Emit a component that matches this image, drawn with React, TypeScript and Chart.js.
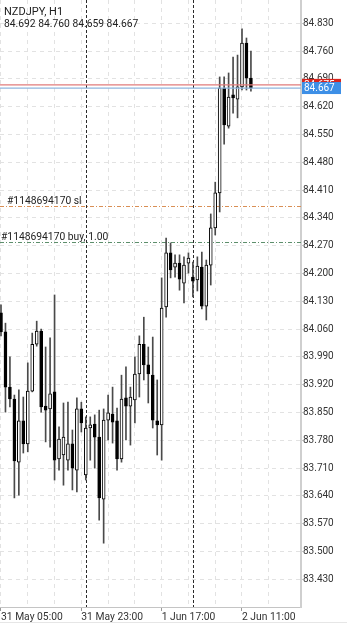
import React, { useEffect, useRef } from 'react';
import { Chart, registerables } from 'chart.js';

Chart.register(...registerables);

const symbolTitle = 'NZDJPY, H1';
const ohlcText = '84.692 84.760 84.659 84.667';

const opens = [84.101, 84.053, 83.914, 83.884, 83.725, 83.829, 83.771, 83.904, 84.022, 84.055, 83.866, 83.859, 83.902, 83.733, 83.743, 83.730, 83.771, 83.705, 83.859, 83.693, 83.811, 83.821, 83.788, 83.632, 83.831, 83.846, 83.829, 83.733, 83.887, 83.866, 83.882, 83.947, 84.022, 83.970, 83.944, 83.829, 83.819, 84.116, 84.252, 84.216, 84.226, 84.176, 84.226, 84.191, 84.184, 84.216, 84.118, 84.221, 84.315, 84.403, 84.667, 84.571, 84.650, 84.639, 84.670, 84.780, 84.692];
const highs = [84.121, 84.075, 83.990, 83.894, 83.907, 83.889, 83.975, 84.050, 84.080, 84.060, 84.015, 84.038, 84.146, 83.814, 83.874, 83.876, 83.806, 83.887, 83.876, 83.839, 83.839, 83.844, 83.856, 83.859, 83.894, 83.914, 83.861, 83.944, 83.965, 83.914, 83.990, 84.043, 84.090, 84.015, 84.040, 83.932, 84.189, 84.289, 84.277, 84.247, 84.247, 84.242, 84.252, 84.229, 84.242, 84.254, 84.234, 84.350, 84.430, 84.695, 84.695, 84.705, 84.745, 84.750, 84.816, 84.793, 84.760];
const lows = [84.043, 83.851, 83.864, 83.635, 83.642, 83.748, 83.751, 83.902, 84.017, 83.851, 83.776, 83.763, 83.680, 83.705, 83.667, 83.705, 83.655, 83.650, 83.801, 83.680, 83.730, 83.710, 83.579, 83.521, 83.781, 83.773, 83.705, 83.725, 83.781, 83.768, 83.824, 83.889, 83.932, 83.874, 83.811, 83.743, 83.730, 84.090, 84.189, 84.191, 84.158, 84.126, 84.201, 84.141, 84.156, 84.111, 84.083, 84.171, 84.297, 84.355, 84.526, 84.566, 84.604, 84.592, 84.662, 84.662, 84.659];
const closes = [84.053, 83.914, 83.884, 83.728, 83.829, 83.771, 83.904, 84.022, 84.055, 83.864, 83.856, 83.897, 83.730, 83.783, 83.788, 83.771, 83.710, 83.859, 83.824, 83.811, 83.819, 83.788, 83.635, 83.831, 83.849, 83.826, 83.733, 83.884, 83.866, 83.889, 83.947, 84.022, 83.970, 83.947, 83.831, 83.819, 84.113, 84.252, 84.209, 84.226, 84.186, 84.221, 84.239, 84.181, 84.219, 84.118, 84.221, 84.315, 84.403, 84.667, 84.574, 84.644, 84.642, 84.670, 84.780, 84.692, 84.667];

const xTickIndex = [0, 18, 36, 54];
const xTickLabels = ['31 May 05:00', '31 May 23:00', '1 Jun 17:00', '2 Jun 11:00'];
const xGridIndex = [0, 6, 12, 18, 24, 30, 36, 42, 48, 54, 60];
const daySeparators = [19, 43];
const yTickValues = [83.430, 83.500, 83.570, 83.640, 83.710, 83.780, 83.850, 83.920, 83.990, 84.060, 84.130, 84.200, 84.270, 84.340, 84.410, 84.480, 84.550, 84.620, 84.690, 84.760, 84.830];

const slPrice = 84.370;
const slLabel = '#1148694170 sl';
const buyPrice = 84.280;
const buyLabel = '#1148694170 buy, 1.00';
const askPrice = 84.675;
const bidPrice = 84.667;

const FONT = 'Roboto';

const overlayPlugin = {
  id: 'mtOverlay',
  beforeDatasetsDraw(chart: any) {
    const { ctx, chartArea: a, scales } = chart;
    const x = scales.x;
    const y = scales.y;
    ctx.save();
    // day separators
    ctx.strokeStyle = '#2a2a2a';
    ctx.lineWidth = 1;
    ctx.setLineDash([3, 2]);
    daySeparators.forEach((i) => {
      const px = Math.round(x.getPixelForValue(i)) + 0.5;
      ctx.beginPath();
      ctx.moveTo(px, a.top);
      ctx.lineTo(px, a.bottom);
      ctx.stroke();
    });
    // order lines
    const orderLine = (price: number, color: string, label: string, lx: number) => {
      const py = Math.round(y.getPixelForValue(price)) + 0.5;
      ctx.strokeStyle = color;
      ctx.lineWidth = 1;
      ctx.setLineDash([4, 2, 1, 2]);
      ctx.beginPath();
      ctx.moveTo(a.left, py);
      ctx.lineTo(a.right, py);
      ctx.stroke();
      ctx.setLineDash([]);
      ctx.font = `10.3px ${FONT}`;
      ctx.fillStyle = '#222';
      ctx.textAlign = 'left';
      ctx.textBaseline = 'alphabetic';
      ctx.fillText(label, lx, py - 2.5);
    };
    orderLine(slPrice, '#d98f55', slLabel, 7);
    orderLine(buyPrice, '#5d8f6c', buyLabel, 1);
    ctx.restore();
  },
  afterDatasetsDraw(chart: any) {
    const { ctx, chartArea: a, scales } = chart;
    const y = scales.y;
    ctx.save();
    const line = (price: number, color: string) => {
      const py = y.getPixelForValue(price);
      ctx.strokeStyle = color;
      ctx.lineWidth = 1.3;
      ctx.beginPath();
      ctx.moveTo(a.left, py);
      ctx.lineTo(a.right, py);
      ctx.stroke();
    };
    line(askPrice, '#e07b7b');
    line(bidPrice, '#8fb5de');
    ctx.restore();
  },
  afterDraw(chart: any) {
    const { ctx, chartArea: a, scales, width, height } = chart;
    const y = scales.y;
    ctx.save();
    const tag = (price: number, bg: string, fg: string) => {
      const py = y.getPixelForValue(price);
      ctx.fillStyle = bg;
      ctx.fillRect(a.right + 1, py - 6, 39, 12);
      ctx.fillStyle = fg;
      ctx.font = `10px ${FONT}`;
      ctx.textAlign = 'left';
      ctx.textBaseline = 'middle';
      ctx.fillText(price.toFixed(3), a.right + 3, py + 0.5);
    };
    tag(askPrice, '#d8261f', '#ffffff');
    tag(bidPrice, '#3d8fe6', '#ffffff');
    // header text
    ctx.fillStyle = '#222';
    ctx.textAlign = 'left';
    ctx.textBaseline = 'alphabetic';
    ctx.font = `11px ${FONT}`;
    ctx.fillText(symbolTitle, 4, 15);
    ctx.font = `10.3px ${FONT}`;
    ctx.fillText(ohlcText, 4, 26.5);
    // bottom toolbar divider
    ctx.fillStyle = '#e6e6e6';
    ctx.fillRect(0, height - 3, width, 1);
    ctx.restore();
  },
};

export default function App() {
  const canvasRef = useRef<HTMLCanvasElement | null>(null);

  useEffect(() => {
    document.body.style.margin = '0';
    const canvas = canvasRef.current;
    if (!canvas) return;

    const bodies = opens.map((o, i) => ({ x: i, y: [o, closes[i]] }));
    const wicks = lows.map((l, i) => ({ x: i, y: [l, highs[i]] }));
    const bodyFill = opens.map((o, i) => (closes[i] >= o ? '#ffffff' : '#000000'));

    const chart = new Chart(canvas, {
      type: 'bar',
      data: {
        datasets: [
          {
            label: 'body',
            data: bodies as any,
            backgroundColor: bodyFill,
            borderColor: '#000000',
            borderWidth: 1,
            borderSkipped: false,
            barThickness: 3,
            minBarLength: 1,
            grouped: false,
          } as any,
          {
            label: 'wick',
            data: wicks as any,
            backgroundColor: '#4a4a4a',
            borderWidth: 0,
            barThickness: 1,
            grouped: false,
          } as any,
        ],
      },
      options: {
        responsive: false,
        animation: false,
        devicePixelRatio: 1,
        layout: { padding: 0, autoPadding: false } as any,
        plugins: {
          legend: { display: false },
          tooltip: { enabled: false },
          title: { display: false },
        },
        scales: {
          x: {
            type: 'linear',
            position: 'bottom',
            min: -0.224,
            max: 67.22,
            offset: false,
            bounds: 'data',
            afterBuildTicks: (scale: any) => {
              scale.ticks = xGridIndex.map((v) => ({ value: v }));
            },
            afterFit: (scale: any) => {
              scale.height = 18;
              scale.paddingLeft = 0;
              scale.paddingRight = 0;
              scale.paddingTop = 0;
              scale.paddingBottom = 0;
            },
            grid: {
              offset: false,
              color: '#e2e2e2',
              lineWidth: 1,
              drawTicks: true,
              tickLength: 4,
              tickColor: (ctx: any) =>
                ctx.tick && xTickIndex.includes(ctx.tick.value) ? '#999999' : 'rgba(0,0,0,0)',
            },
            border: { display: true, color: '#c4c4c4', width: 1, dash: [4, 4] },
            ticks: {
              autoSkip: false,
              maxRotation: 0,
              minRotation: 0,
              align: 'start',
              padding: 0,
              color: '#333333',
              font: { family: FONT, size: 10.3 },
              callback: (value: any) => {
                const k = xTickIndex.indexOf(Number(value));
                return k >= 0 ? xTickLabels[k] : '';
              },
            },
          } as any,
          y: {
            type: 'linear',
            position: 'right',
            min: 83.3603,
            max: 84.8887,
            bounds: 'data',
            afterBuildTicks: (scale: any) => {
              scale.ticks = yTickValues.map((v) => ({ value: v }));
            },
            afterFit: (scale: any) => {
              scale.width = 46;
              scale.paddingLeft = 0;
              scale.paddingRight = 0;
              scale.paddingTop = 0;
              scale.paddingBottom = 0;
            },
            grid: {
              color: '#e2e2e2',
              lineWidth: 1,
              drawTicks: true,
              tickLength: 2,
              tickColor: '#c8c8c8',
            },
            border: { display: true, color: '#cfcfcf', width: 2, dash: [4, 4] },
            ticks: {
              autoSkip: false,
              padding: 0,
              color: '#333333',
              font: { family: FONT, size: 10 },
              callback: (value: any) => Number(value).toFixed(3),
            },
          } as any,
        },
      },
      plugins: [overlayPlugin],
    });

    return () => chart.destroy();
  }, []);

  return (
    <canvas
      ref={canvasRef}
      width={347}
      height={625}
      style={{ display: 'block', width: '347px', height: '625px' }}
    />
  );
}
